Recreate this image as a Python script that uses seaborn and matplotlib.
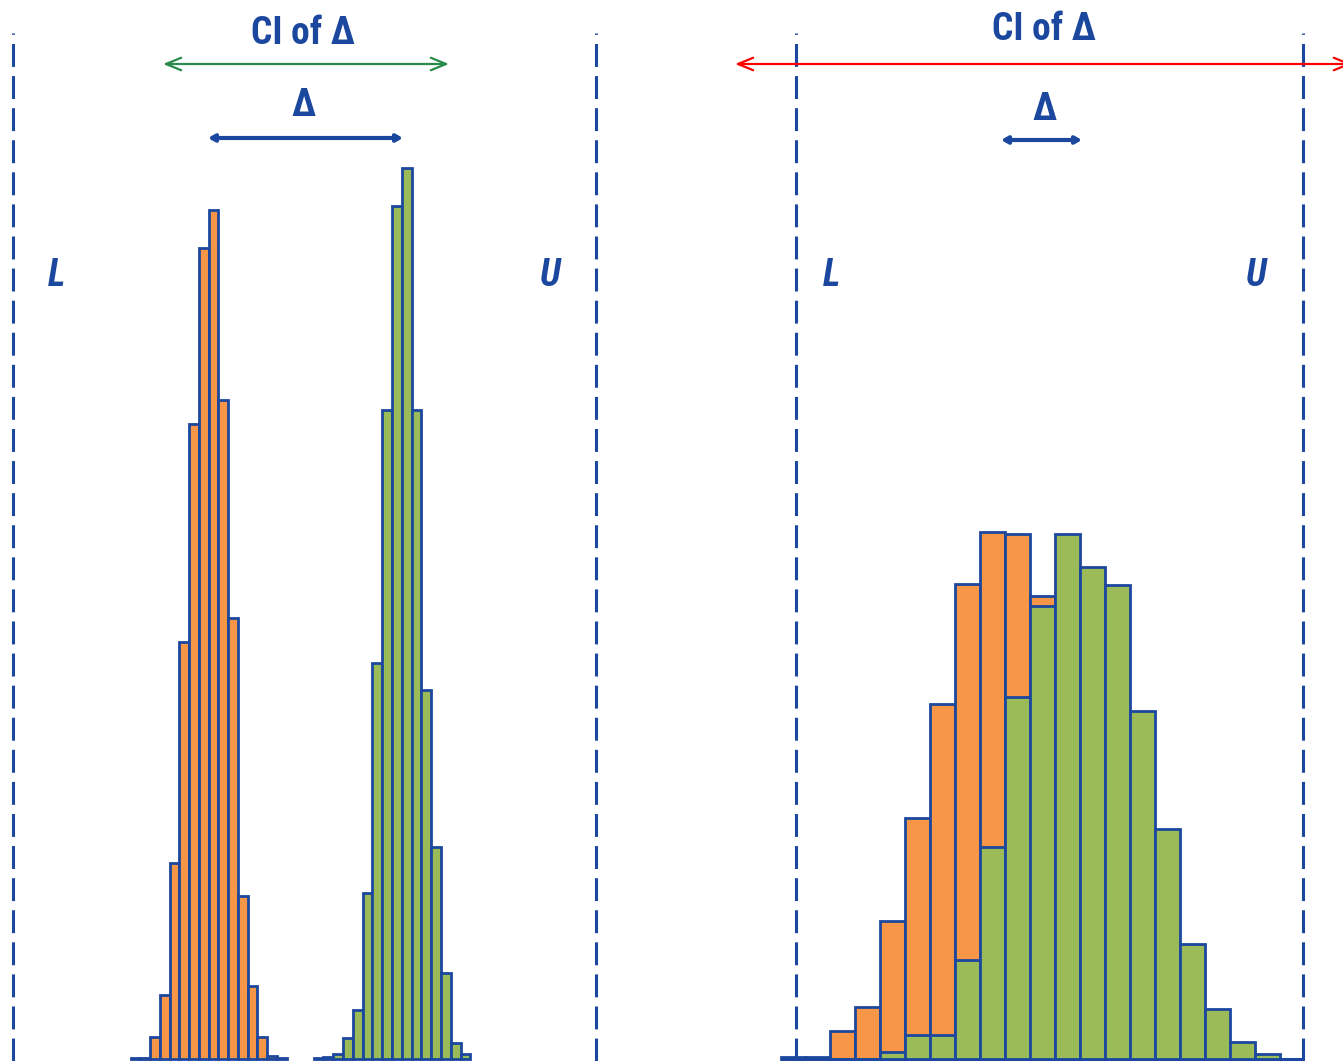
import numpy as np
import pandas as pd
import matplotlib
matplotlib.use("Agg")
import matplotlib.pyplot as plt
import seaborn as sns

# left panel: narrow distributions (counts)
left_a_start, left_a_width = 130.5, 9.75
left_a_counts = [1, 1, 22, 64, 196, 417, 635, 811, 849, 659, 441, 163, 73, 22, 3, 1]
left_b_start, left_b_width = 313.5, 9.8
left_b_counts = [1, 2, 5, 21, 49, 166, 396, 649, 853, 891, 649, 369, 212, 86, 16, 5]

# right panel: wide distributions
right_start, right_width = 780.5, 24.95
right_a_counts = [2, 2, 28, 52, 138, 241, 355, 475, 527, 525, 463, 330, 210, 120, 55, 20, 6, 2, 0, 0, 0]
right_b_counts = [0, 0, 0, 0, 7, 24, 24, 99, 212, 362, 453, 525, 492, 474, 348, 230, 115, 50, 17, 5, 0]

limit_x = [13, 596, 796, 1303]
limit_labels = ["L", "U", "L", "U"]

BLUE = "#1B479E"
ORANGE = "#F79646"
GREEN = "#9BBB59"
DARKGREEN = "#2A8A4C"
RED = "#FF0000"


def to_frame(start, width, counts):
    n = len(counts)
    edges = start + width * np.arange(n + 1)
    centers = (edges[:-1] + edges[1:]) / 2
    return pd.DataFrame({"x": centers, "n": counts}), [float(e) for e in edges]


def draw_hist(ax, start, width, counts, color):
    df, edges = to_frame(start, width, counts)
    sns.histplot(data=df, x="x", weights="n", bins=edges, ax=ax,
                 color=color, alpha=1, edgecolor=BLUE, linewidth=2)


def main():
    sns.set_style("white")
    plt.rcParams["font.family"] = ["Roboto Condensed", "Liberation Sans Narrow", "Roboto", "DejaVu Sans"]

    fig = plt.figure(figsize=(13.43, 10.61), dpi=100)
    ax = fig.add_axes([0, 0, 1, 1])

    draw_hist(ax, left_a_start, left_a_width, left_a_counts, ORANGE)
    draw_hist(ax, left_b_start, left_b_width, left_b_counts, GREEN)
    draw_hist(ax, right_start, right_width, right_a_counts, ORANGE)
    draw_hist(ax, right_start, right_width, right_b_counts, GREEN)

    ax.set_xlim(0, 1343)
    ax.set_ylim(-2, 1059)
    ax.axis("off")

    # limits L / U
    ax.vlines(limit_x, -2, 1026, colors=BLUE, linewidth=2.2,
              linestyles=(0, (7.5, 3)))
    for x, lab, lx in zip(limit_x, limit_labels, [57, 550, 832, 1256]):
        ax.text(lx, 783, lab, color=BLUE, fontsize=27, fontweight="bold",
                fontstyle="italic", ha="center", va="center")

    # CI of delta arrows
    title_font = dict(color=BLUE, fontsize=27, fontweight="bold", ha="center", va="center")
    ax.text(303, 1026, "CI of Δ", **title_font)
    ax.text(1044, 1029, "CI of Δ", **title_font)
    ax.annotate("", xy=(163, 995), xytext=(449, 995),
                arrowprops=dict(arrowstyle="<->,head_length=1.1,head_width=0.45",
                                color=DARKGREEN, lw=1.6, shrinkA=0, shrinkB=0))
    ax.annotate("", xy=(735, 995), xytext=(1352, 995), annotation_clip=False,
                arrowprops=dict(arrowstyle="<->,head_length=1.1,head_width=0.45",
                                color=RED, lw=1.6, shrinkA=0, shrinkB=0))

    # delta arrows
    ax.text(303, 954, "Δ", **title_font)
    ax.text(1044, 950, "Δ", **title_font)
    ax.annotate("", xy=(208, 921), xytext=(403, 921),
                arrowprops=dict(arrowstyle="<->,head_length=0.35,head_width=0.2",
                                color=BLUE, lw=3, shrinkA=0, shrinkB=0))
    ax.annotate("", xy=(1001, 919), xytext=(1082, 919),
                arrowprops=dict(arrowstyle="<->,head_length=0.35,head_width=0.2",
                                color=BLUE, lw=3, shrinkA=0, shrinkB=0))

    fig.savefig("out.png", dpi=100)


if __name__ == "__main__":
    main()
